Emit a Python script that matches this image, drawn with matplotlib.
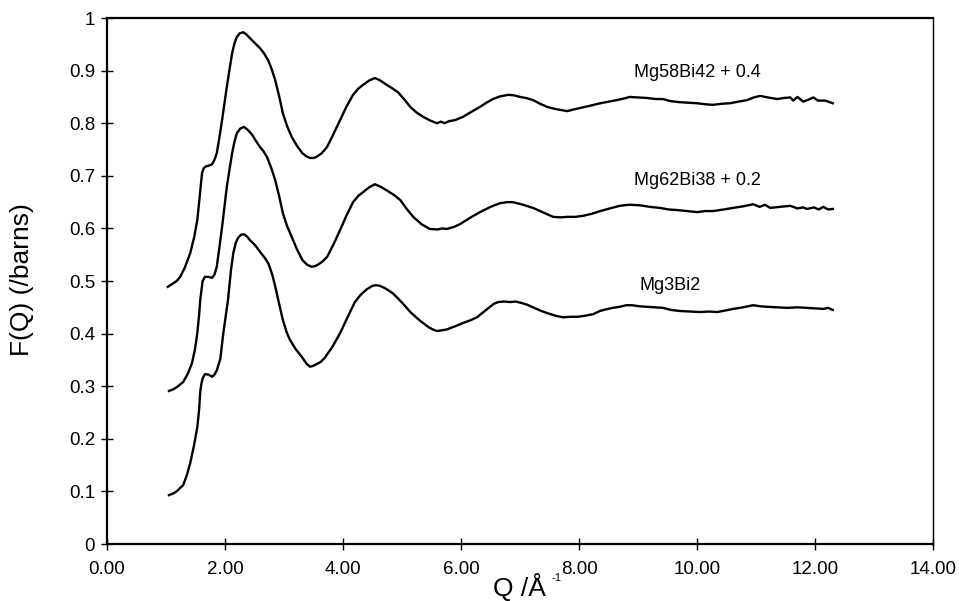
import matplotlib
matplotlib.use("Agg")
import matplotlib.pyplot as plt

plt.rcParams['font.family'] = ['Liberation Sans', 'DejaVu Sans']

# Mg3Bi2
q_mg3bi2 = [1.05, 1.12, 1.18, 1.29, 1.35, 1.41, 1.47, 1.53, 1.56, 1.58, 1.60, 1.62,
            1.66, 1.72, 1.78, 1.82, 1.86, 1.92, 1.97, 2.05, 2.10, 2.14, 2.18, 2.22,
            2.27, 2.32, 2.37, 2.42, 2.51, 2.59, 2.68, 2.74, 2.80, 2.85, 2.92, 2.98,
            3.04, 3.10, 3.20, 3.30, 3.38, 3.44, 3.50, 3.55, 3.62, 3.69, 3.82, 3.95,
            4.08, 4.20, 4.30, 4.40, 4.50, 4.56, 4.62, 4.70, 4.76, 4.85, 4.93, 5.04,
            5.14, 5.30, 5.44, 5.52, 5.59, 5.66, 5.76, 5.90, 6.03, 6.15, 6.27, 6.38,
            6.49, 6.56, 6.63, 6.73, 6.83, 6.93, 7.03, 7.12, 7.22, 7.34, 7.46, 7.60,
            7.73, 7.85, 7.97, 8.10, 8.24, 8.35, 8.45, 8.57, 8.69, 8.80, 8.90, 9.02,
            9.15, 9.28, 9.42, 9.56, 9.71, 9.88, 10.05, 10.20, 10.34, 10.48, 10.61, 10.78,
            10.95, 11.07, 11.19, 11.36, 11.53, 11.70, 11.86, 12.00, 12.14, 12.22, 12.30]
f_mg3bi2 = [0.093, 0.096, 0.100, 0.112, 0.130, 0.154, 0.185, 0.222, 0.255, 0.290, 0.305, 0.315,
            0.323, 0.322, 0.318, 0.322, 0.330, 0.352, 0.400, 0.464, 0.520, 0.553, 0.572, 0.582,
            0.588, 0.589, 0.585, 0.578, 0.568, 0.556, 0.543, 0.532, 0.512, 0.490, 0.455, 0.426,
            0.404, 0.388, 0.370, 0.356, 0.343, 0.337, 0.339, 0.342, 0.346, 0.354, 0.375, 0.401,
            0.432, 0.460, 0.474, 0.484, 0.491, 0.492, 0.491, 0.487, 0.483, 0.476, 0.467, 0.454,
            0.441, 0.425, 0.413, 0.408, 0.405, 0.406, 0.408, 0.414, 0.420, 0.425, 0.431, 0.441,
            0.451, 0.457, 0.460, 0.461, 0.460, 0.461, 0.458, 0.455, 0.450, 0.444, 0.439, 0.434,
            0.431, 0.432, 0.432, 0.434, 0.437, 0.443, 0.446, 0.449, 0.451, 0.454, 0.454, 0.452,
            0.451, 0.450, 0.449, 0.445, 0.443, 0.442, 0.441, 0.442, 0.441, 0.444, 0.447, 0.450,
            0.454, 0.452, 0.451, 0.450, 0.449, 0.450, 0.449, 0.448, 0.447, 0.449, 0.445]

# Mg62Bi38, shifted up by 0.2
q_mg62 = [1.05, 1.12, 1.18, 1.29, 1.37, 1.44, 1.49, 1.53, 1.56, 1.58, 1.62, 1.66,
          1.72, 1.78, 1.82, 1.86, 1.90, 1.95, 2.03, 2.08, 2.12, 2.16, 2.20, 2.26,
          2.32, 2.38, 2.46, 2.52, 2.59, 2.65, 2.71, 2.78, 2.85, 2.92, 2.98, 3.05,
          3.13, 3.22, 3.31, 3.39, 3.47, 3.54, 3.60, 3.66, 3.73, 3.84, 3.95, 4.06,
          4.17, 4.26, 4.34, 4.44, 4.54, 4.64, 4.76, 4.87, 4.97, 5.08, 5.19, 5.33,
          5.47, 5.60, 5.68, 5.76, 5.88, 5.98, 6.15, 6.32, 6.50, 6.66, 6.78, 6.88,
          7.05, 7.22, 7.40, 7.56, 7.68, 7.80, 7.94, 8.07, 8.22, 8.36, 8.52, 8.69,
          8.85, 9.03, 9.20, 9.37, 9.52, 9.66, 9.83, 10.00, 10.14, 10.27, 10.45, 10.61,
          10.78, 10.95, 11.06, 11.15, 11.24, 11.40, 11.58, 11.70, 11.80, 11.86, 11.98, 12.06,
          12.14, 12.22, 12.30]
f_mg62 = [0.291, 0.294, 0.298, 0.308, 0.324, 0.344, 0.370, 0.401, 0.435, 0.464, 0.500, 0.508,
          0.508, 0.506, 0.512, 0.527, 0.560, 0.603, 0.679, 0.715, 0.743, 0.765, 0.781, 0.790,
          0.793, 0.788, 0.778, 0.767, 0.755, 0.747, 0.736, 0.716, 0.692, 0.660, 0.629, 0.605,
          0.584, 0.560, 0.540, 0.531, 0.527, 0.529, 0.533, 0.538, 0.546, 0.570, 0.597, 0.625,
          0.650, 0.662, 0.669, 0.678, 0.684, 0.679, 0.671, 0.663, 0.654, 0.637, 0.622, 0.608,
          0.599, 0.598, 0.600, 0.599, 0.603, 0.608, 0.620, 0.631, 0.641, 0.648, 0.650, 0.650,
          0.645, 0.639, 0.630, 0.622, 0.621, 0.622, 0.622, 0.624, 0.628, 0.633, 0.638, 0.643,
          0.645, 0.644, 0.641, 0.639, 0.636, 0.635, 0.633, 0.631, 0.633, 0.633, 0.636, 0.639,
          0.642, 0.646, 0.641, 0.645, 0.639, 0.641, 0.643, 0.638, 0.640, 0.637, 0.640, 0.636,
          0.641, 0.636, 0.637]

# Mg58Bi42, shifted up by 0.4
q_mg58 = [1.03, 1.10, 1.18, 1.24, 1.32, 1.41, 1.48, 1.53, 1.57, 1.61, 1.64, 1.68,
          1.74, 1.78, 1.82, 1.86, 1.90, 1.95, 2.03, 2.08, 2.12, 2.16, 2.20, 2.25,
          2.31, 2.36, 2.42, 2.50, 2.59, 2.66, 2.73, 2.79, 2.85, 2.92, 2.98, 3.05,
          3.13, 3.22, 3.31, 3.38, 3.44, 3.50, 3.55, 3.64, 3.73, 3.84, 3.95, 4.06,
          4.17, 4.26, 4.34, 4.44, 4.54, 4.62, 4.74, 4.84, 4.93, 5.04, 5.14, 5.25,
          5.36, 5.48, 5.59, 5.66, 5.72, 5.80, 5.90, 6.03, 6.18, 6.32, 6.43, 6.54,
          6.66, 6.80, 6.90, 7.00, 7.10, 7.22, 7.34, 7.46, 7.60, 7.70, 7.80, 7.90,
          8.02, 8.18, 8.36, 8.50, 8.64, 8.76, 8.86, 9.00, 9.15, 9.30, 9.42, 9.55,
          9.71, 9.85, 10.00, 10.14, 10.27, 10.42, 10.56, 10.70, 10.85, 10.96, 11.07, 11.20,
          11.36, 11.47, 11.58, 11.63, 11.70, 11.80, 11.89, 11.97, 12.05, 12.17, 12.30]
f_mg58 = [0.489, 0.494, 0.500, 0.508, 0.526, 0.553, 0.585, 0.616, 0.660, 0.705, 0.715, 0.718,
          0.720, 0.722, 0.730, 0.743, 0.770, 0.806, 0.869, 0.905, 0.933, 0.952, 0.964, 0.971,
          0.973, 0.969, 0.962, 0.953, 0.943, 0.933, 0.920, 0.903, 0.882, 0.850, 0.819, 0.795,
          0.774, 0.757, 0.743, 0.737, 0.734, 0.734, 0.736, 0.743, 0.755, 0.780, 0.806, 0.832,
          0.854, 0.866, 0.873, 0.881, 0.886, 0.882, 0.873, 0.866, 0.859, 0.845, 0.831, 0.820,
          0.812, 0.805, 0.800, 0.803, 0.800, 0.804, 0.806, 0.812, 0.822, 0.831, 0.839, 0.846,
          0.851, 0.854, 0.853, 0.850, 0.848, 0.844, 0.837, 0.831, 0.827, 0.825, 0.823, 0.826,
          0.829, 0.833, 0.838, 0.841, 0.844, 0.847, 0.850, 0.849, 0.848, 0.846, 0.846, 0.842,
          0.840, 0.839, 0.838, 0.836, 0.835, 0.837, 0.838, 0.841, 0.844, 0.849, 0.852, 0.849,
          0.846, 0.848, 0.849, 0.843, 0.850, 0.841, 0.845, 0.849, 0.843, 0.843, 0.838]

labels = ['Mg58Bi42 + 0.4', 'Mg62Bi38 + 0.2', 'Mg3Bi2']
label_pos = [(10.0, 0.897), (10.0, 0.692), (9.54, 0.492)]

fig = plt.figure(figsize=(9.59, 6.01), dpi=100)
ax = fig.add_axes([0.1116, 0.0948, 0.8614, 0.8752])

for q, f in [(q_mg58, f_mg58), (q_mg62, f_mg62), (q_mg3bi2, f_mg3bi2)]:
    ax.plot(q, f, color='black', lw=1.7, solid_joinstyle='round')

for txt, (x, y) in zip(labels, label_pos):
    ax.text(x, y, txt, ha='center', va='center', fontsize=13)

ax.set_xlim(0, 14)
ax.set_ylim(0, 1)
ax.set_xticks(range(0, 15, 2))
ax.set_xticklabels([f'{v:.2f}' for v in range(0, 15, 2)])
ax.set_yticks([i / 10 for i in range(11)])
ax.set_yticklabels(['0', '0.1', '0.2', '0.3', '0.4', '0.5', '0.6', '0.7', '0.8', '0.9', '1'])
ax.tick_params(direction='inout', length=9, width=1.0, labelsize=13.5)
ax.tick_params(axis='x', pad=8)
ax.tick_params(axis='y', pad=4)

for side in ['left', 'bottom', 'top']:
    ax.spines[side].set_linewidth(1.6)
ax.spines['right'].set_linewidth(1.0)

fig.text(22 / 959, 1 - 280 / 601, 'F(Q) (/barns)', rotation=90,
         ha='center', va='center', fontsize=19)
fig.text(493 / 959, 1 - 596 / 601, 'Q /Å', ha='left', va='baseline', fontsize=19)
fig.text(551 / 959, 1 - 581 / 601, '-1', ha='left', va='baseline', fontsize=8)

fig.savefig('out.png', dpi=100)
